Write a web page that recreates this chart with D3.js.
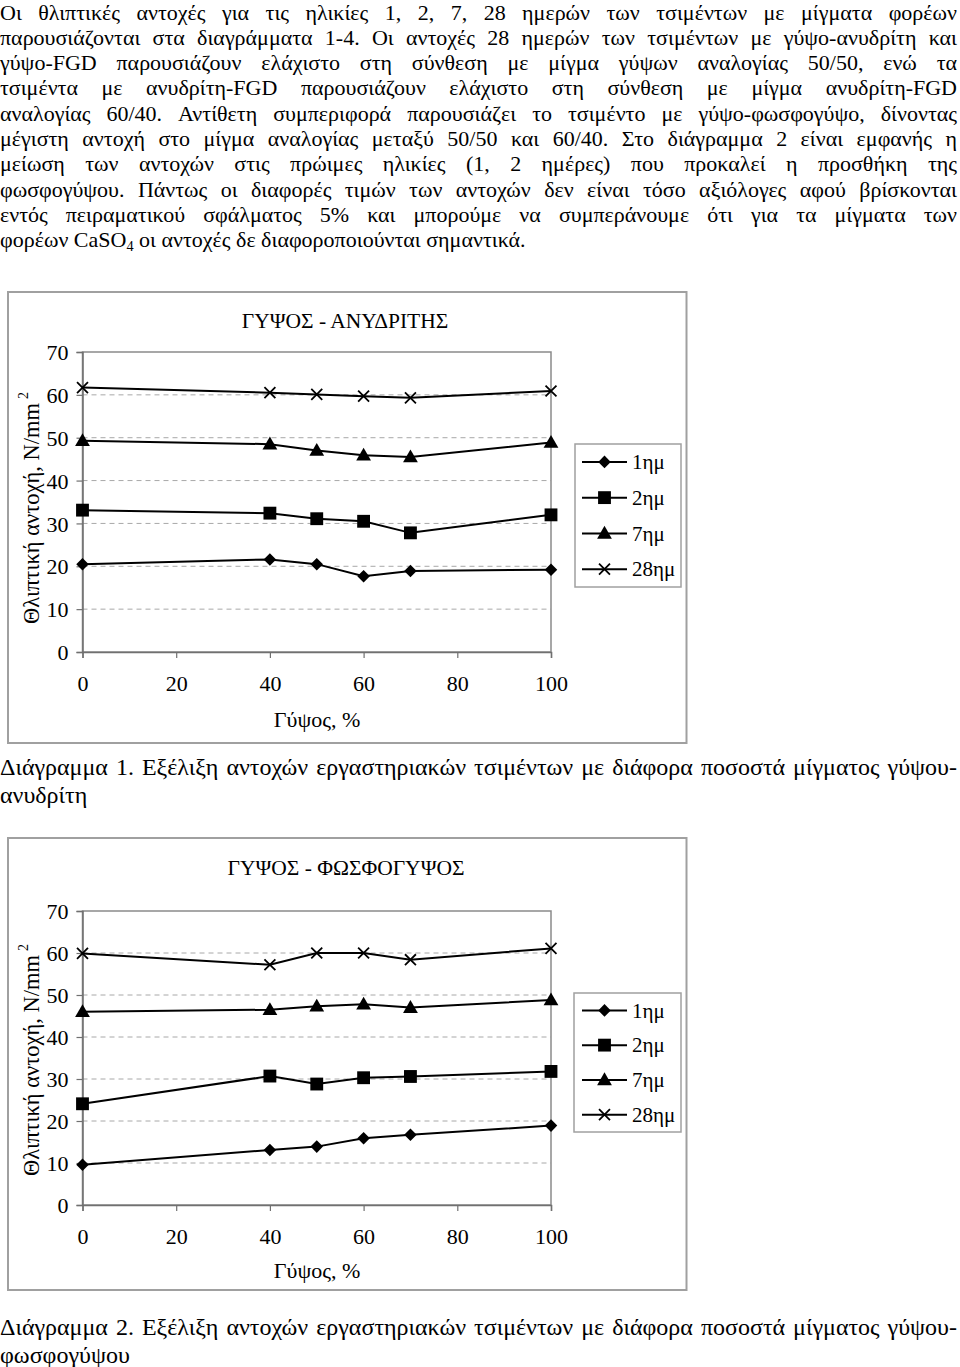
<!DOCTYPE html>
<html><head><meta charset="utf-8">
<script src="https://cdn.jsdelivr.net/npm/d3@7"></script>
<style>body{margin:0;background:#fff}</style>
</head><body><svg id="c" width="960" height="1367"></svg>
<script>
// ---------- data ----------
const paragraphLines = [
  "Οι θλιπτικές αντοχές για τις ηλικίες 1, 2, 7, 28 ημερών των τσιμέντων με μίγματα φορέων",
  "παρουσιάζονται στα διαγράμματα 1-4. Οι αντοχές 28 ημερών των τσιμέντων με γύψο-ανυδρίτη και",
  "γύψο-FGD παρουσιάζουν ελάχιστο στη σύνθεση με μίγμα γύψων αναλογίας 50/50, ενώ τα",
  "τσιμέντα με ανυδρίτη-FGD παρουσιάζουν ελάχιστο στη σύνθεση με μίγμα ανυδρίτη-FGD",
  "αναλογίας 60/40. Αντίθετη συμπεριφορά παρουσιάζει το τσιμέντο με γύψο-φωσφογύψο, δίνοντας",
  "μέγιστη αντοχή στο μίγμα αναλογίας μεταξύ 50/50 και 60/40. Στο διάγραμμα 2 είναι εμφανής η",
  "μείωση των αντοχών στις πρώιμες ηλικίες (1, 2 ημέρες) που προκαλεί η προσθήκη της",
  "φωσφογύψου. Πάντως οι διαφορές τιμών των αντοχών δεν είναι τόσο αξιόλογες αφού βρίσκονται",
  "εντός πειραματικού σφάλματος 5% και μπορούμε να συμπεράνουμε ότι για τα μίγματα των"
];
const paragraphLast = ["φορέων CaSO", "4", " οι αντοχές δε διαφοροποιούνται σημαντικά."];

const caption1 = ["Διάγραμμα 1.  Εξέλιξη αντοχών εργαστηριακών τσιμέντων με διάφορα ποσοστά μίγματος γύψου-", "ανυδρίτη"];
const caption2 = ["Διάγραμμα 2.  Εξέλιξη αντοχών εργαστηριακών τσιμέντων με διάφορα ποσοστά μίγματος γύψου-", "φωσφογύψου"];

const chartTitles = ["ΓΥΨΟΣ - ΑΝΥΔΡΙΤΗΣ", "ΓΥΨΟΣ - ΦΩΣΦΟΓΥΨΟΣ"];
const xTitle = "Γύψος, %";
const yTitle = "Θλιπτική αντοχή, N/mm";
const yTitleSup = "2";

const gypsumPct = [0, 40, 50, 60, 70, 100];
const xTicks = [0, 20, 40, 60, 80, 100];
const yTicks = [0, 10, 20, 30, 40, 50, 60, 70];
const gridTicks = [10, 20, 30, 40, 50, 60];
const seriesNames = ["1ημ", "2ημ", "7ημ", "28ημ"];

// Chart 1: gypsum - anhydrite
const anhydrite_1d  = [20.5, 21.6, 20.5, 17.7, 18.9, 19.2];
const anhydrite_2d  = [33.1, 32.4, 31.1, 30.5, 27.8, 32.0];
const anhydrite_7d  = [49.3, 48.5, 47.0, 45.9, 45.5, 48.9];
const anhydrite_28d = [61.7, 60.5, 60.1, 59.7, 59.3, 60.9];

// Chart 2: gypsum - phosphogypsum
const phospho_1d  = [9.6, 13.1, 13.9, 15.9, 16.7, 18.9];
const phospho_2d  = [24.1, 30.7, 28.8, 30.3, 30.6, 31.8];
const phospho_7d  = [46.0, 46.5, 47.3, 47.8, 47.0, 48.8];
const phospho_28d = [59.9, 57.2, 60.0, 60.0, 58.4, 61.1];

// ---------- drawing ----------
const svg = d3.select("#c");
const FONT = "'Liberation Serif','Times New Roman',serif";

function justifiedLine(text, x0, x1, y, size, justify) {
  const words = text.split(/\s+/);
  const t = svg.append("text").attr("y", y)
    .attr("font-family", FONT).attr("font-size", size).attr("fill", "#000");
  const spans = words.map(w => t.append("tspan").text(w));
  const widths = spans.map(s => s.node().getComputedTextLength());
  const total = d3.sum(widths);
  let gap = justify && words.length > 1 ? (x1 - x0 - total) / (words.length - 1) : size * 0.25;
  if (gap < size * 0.12) gap = size * 0.12;
  let x = x0;
  spans.forEach((s, i) => { s.attr("x", x); x += widths[i] + gap; });
}

// paragraph
const pSize = 22, pTop = 19.5, pStep = 25.3;
paragraphLines.forEach((l, i) => justifiedLine(l, 0, 957, pTop + i * pStep, pSize, true));
{
  const t = svg.append("text").attr("x", 0).attr("y", pTop + paragraphLines.length * pStep)
    .attr("font-family", FONT).attr("font-size", pSize).attr("fill", "#000");
  t.append("tspan").text(paragraphLast[0]);
  t.append("tspan").attr("font-size", pSize * 0.65).attr("dy", 4).text(paragraphLast[1]);
  t.append("tspan").attr("dy", -4).text(paragraphLast[2]);
}

const seriesStyles = ["diamond", "square", "triangle", "cross"];

function marker(g, type, x, y) {
  if (type === "diamond") {
    g.append("path").attr("d", d3.symbol(d3.symbolDiamond2, 100)()).attr("transform", `translate(${x},${y})`).attr("fill", "#000");
  } else if (type === "square") {
    g.append("path").attr("d", d3.symbol(d3.symbolSquare, 165)()).attr("transform", `translate(${x},${y})`).attr("fill", "#000");
  } else if (type === "triangle") {
    g.append("path").attr("d", d3.symbol(d3.symbolTriangle, 95)()).attr("transform", `translate(${x},${y + 1})`).attr("fill", "#000");
  } else {
    g.append("path").attr("d", d3.symbol(d3.symbolTimes, 80)()).attr("transform", `translate(${x},${y})`)
      .attr("fill", "none").attr("stroke", "#000").attr("stroke-width", 1.8);
  }
}

function drawChart(cfg) {
  const g = svg.append("g");
  g.append("rect").attr("x", cfg.box[0]).attr("y", cfg.box[1]).attr("width", cfg.box[2] - cfg.box[0]).attr("height", cfg.box[3] - cfg.box[1])
    .attr("fill", "none").attr("stroke", "#a0a0a0").attr("stroke-width", 2);

  const x = d3.scaleLinear().domain([0, 100]).range([cfg.plot.left, cfg.plot.right]);
  const y = d3.scaleLinear().domain([0, 70]).range([cfg.plot.bottom, cfg.plot.top]);

  g.selectAll(null).data(gridTicks).join("line")
    .attr("x1", cfg.plot.left).attr("x2", cfg.plot.right)
    .attr("y1", d => y(d)).attr("y2", d => y(d))
    .attr("stroke", "#a8a8a8").attr("stroke-width", 1).attr("stroke-dasharray", "5,4");

  g.append("rect").attr("x", cfg.plot.left).attr("y", cfg.plot.top)
    .attr("width", cfg.plot.right - cfg.plot.left).attr("height", cfg.plot.bottom - cfg.plot.top)
    .attr("fill", "none").attr("stroke", "#8a8a8a").attr("stroke-width", 1.5);

  const xAxis = d3.axisBottom(x).tickValues(xTicks).tickSize(6).tickPadding(17).tickFormat(d3.format("d"));
  const gx = g.append("g").attr("transform", `translate(0,${cfg.plot.bottom})`).call(xAxis);
  const yAxis = d3.axisLeft(y).tickValues(yTicks).tickSize(6).tickPadding(8).tickFormat(d3.format("d"));
  const gy = g.append("g").attr("transform", `translate(${cfg.plot.left},0)`).call(yAxis);
  [gx, gy].forEach(a => {
    a.select(".domain").attr("stroke", "#707070").attr("stroke-width", 1.5);
    a.selectAll(".tick line").attr("stroke", "#707070").attr("stroke-width", 1.2);
    a.selectAll("text").attr("font-family", FONT).attr("font-size", 22).attr("fill", "#000");
  });
  gy.selectAll("text").attr("dy", "0.35em");

  g.append("text").attr("x", cfg.titleX).attr("y", cfg.titleY).attr("text-anchor", "middle")
    .attr("font-family", FONT).attr("font-size", 21.5).text(cfg.title);
  g.append("text").attr("x", cfg.xTitleX).attr("y", cfg.xTitleY).attr("text-anchor", "middle")
    .attr("font-family", FONT).attr("font-size", 22).text(xTitle);
  const yt = g.append("text").attr("transform", `translate(${cfg.yTitleX},${cfg.yTitleY}) rotate(-90)`)
    .attr("text-anchor", "middle").attr("font-family", FONT).attr("font-size", 22.5);
  yt.append("tspan").text(yTitle);
  yt.append("tspan").attr("font-size", 14).attr("dy", -11).attr("dx", 4).text(yTitleSup);

  const line = d3.line().x((d, i) => x(gypsumPct[i])).y(d => y(d));
  cfg.series.forEach((vals, si) => {
    g.append("path").attr("d", line(vals)).attr("fill", "none").attr("stroke", "#000").attr("stroke-width", 2);
    vals.forEach((v, i) => marker(g, seriesStyles[si], x(gypsumPct[i]), y(v)));
  });

  const L = cfg.legend;
  g.append("rect").attr("x", L.box[0]).attr("y", L.box[1]).attr("width", L.box[2] - L.box[0]).attr("height", L.box[3] - L.box[1])
    .attr("fill", "#fff").attr("stroke", "#a0a0a0").attr("stroke-width", 1.5);
  const step = (L.box[3] - L.box[1]) / seriesNames.length;
  seriesNames.forEach((name, i) => {
    const yy = L.box[1] + step * (i + 0.5);
    g.append("line").attr("x1", L.lineX[0]).attr("x2", L.lineX[1]).attr("y1", yy).attr("y2", yy)
      .attr("stroke", "#000").attr("stroke-width", 2);
    marker(g, seriesStyles[i], (L.lineX[0] + L.lineX[1]) / 2, yy);
    g.append("text").attr("x", L.textX).attr("y", yy).attr("dy", "0.35em")
      .attr("font-family", FONT).attr("font-size", 21).text(name);
  });
}

drawChart({
  box: [8, 292, 686.5, 743],
  plot: { left: 82.5, right: 551, top: 352, bottom: 652 },
  title: chartTitles[0], titleX: 345, titleY: 328,
  xTitleX: 317, xTitleY: 727,
  yTitleX: 39, yTitleY: 508,
  series: [anhydrite_1d, anhydrite_2d, anhydrite_7d, anhydrite_28d],
  legend: { box: [575, 444, 681, 587], lineX: [582, 627], textX: 632 }
});

drawChart({
  box: [8, 838, 686.5, 1290],
  plot: { left: 82.5, right: 551, top: 911, bottom: 1205 },
  title: chartTitles[1], titleX: 346, titleY: 875,
  xTitleX: 317, xTitleY: 1278,
  yTitleX: 39, yTitleY: 1060,
  series: [phospho_1d, phospho_2d, phospho_7d, phospho_28d],
  legend: { box: [574, 993, 681, 1132], lineX: [582, 627], textX: 632 }
});

function caption(lines, y0) {
  justifiedLine(lines[0], 0, 957, y0, 24, true);
  justifiedLine(lines[1], 0, 957, y0 + 27.6, 24, false);
}
caption(caption1, 775);
caption(caption2, 1335);
</script></body></html>
